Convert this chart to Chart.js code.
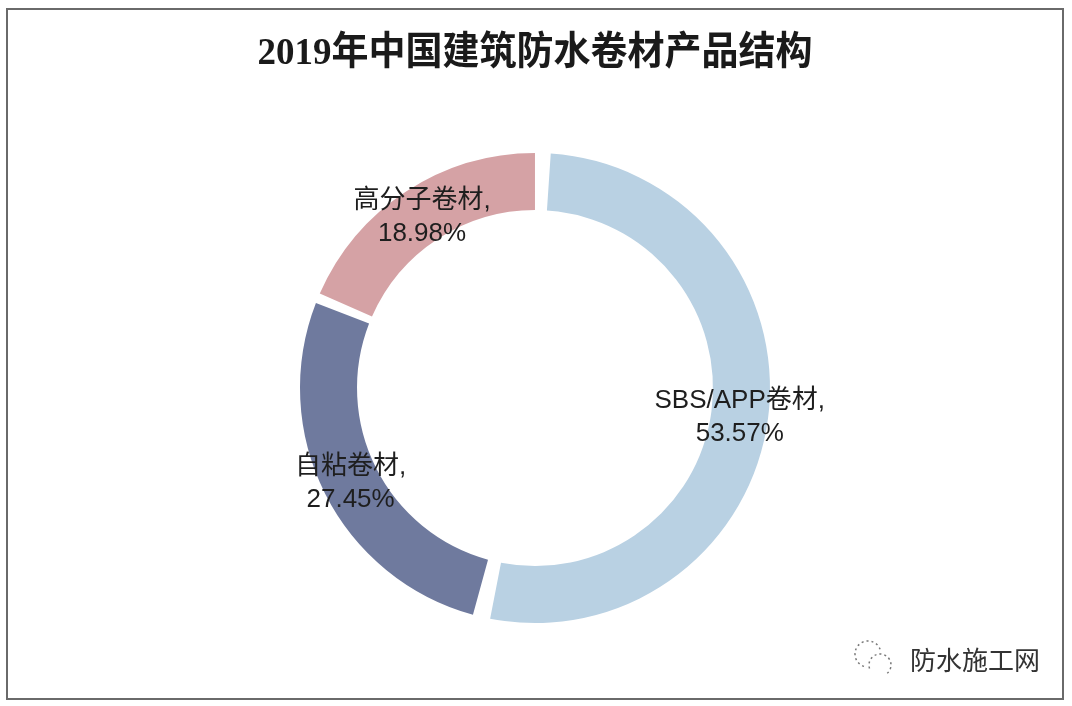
<!DOCTYPE html>
<html>
<head>
<meta charset="utf-8">
<script src="https://cdn.jsdelivr.net/npm/chart.js@4.4.0/dist/chart.umd.min.js"></script>
<style>
  html, body { margin: 0; padding: 0; background: #fff; }
  #wrap { width: 1072px; height: 706px; position: relative; }
</style>
</head>
<body>
<div id="wrap"><canvas id="c" width="1072" height="706"></canvas></div>
<script>
// 数据
const chartTitle = '2019年中国建筑防水卷材产品结构';
const categories = ['SBS/APP卷材', '自粘卷材', '高分子卷材'];
const shares = [53.57, 27.45, 18.98];
const sliceColors = ['#b9d1e3', '#6f7a9e', '#d5a2a5'];
const watermark = '防水施工网';

// 外框 + 标题 + 水印
const framePlugin = {
  id: 'frame',
  beforeDraw(chart) {
    const ctx = chart.ctx;
    ctx.save();
    ctx.fillStyle = '#ffffff';
    ctx.fillRect(0, 0, chart.width, chart.height);
    ctx.strokeStyle = '#6a6a6a';
    ctx.lineWidth = 2;
    ctx.strokeRect(7, 9, 1056, 690);
    ctx.restore();
  },
  afterDraw(chart) {
    const ctx = chart.ctx;
    ctx.save();
    // 标题
    ctx.translate(535, 54);
    ctx.scale(1, 1.05);
    ctx.fillStyle = '#1a1a1a';
    ctx.font = 'bold 37px "Liberation Serif", "Noto Sans CJK SC", serif';
    ctx.textAlign = 'center';
    ctx.textBaseline = 'middle';
    ctx.fillText(chartTitle, 0, 0);
    ctx.restore();

    // 水印
    ctx.save();
    ctx.fillStyle = '#333';
    ctx.font = '26px "Noto Sans CJK SC", sans-serif';
    ctx.textAlign = 'left';
    ctx.textBaseline = 'middle';
    ctx.fillText(watermark, 910, 660);
    ctx.strokeStyle = '#777';
    ctx.lineWidth = 1.5;
    ctx.setLineDash([2, 3]);
    ctx.beginPath();
    ctx.arc(868, 654, 13, Math.PI * 0.6, Math.PI * 1.9);
    ctx.stroke();
    ctx.beginPath();
    ctx.arc(880, 665, 11, Math.PI * 0.9, Math.PI * 2.3);
    ctx.stroke();
    ctx.restore();
  }
};

// 扇区标签
const labelPlugin = {
  id: 'sliceLabels',
  afterDatasetsDraw(chart) {
    const ctx = chart.ctx;
    const meta = chart.getDatasetMeta(0);
    ctx.save();
    ctx.fillStyle = '#1e1e1e';
    ctx.font = '26px "Liberation Sans", "Noto Sans CJK SC", sans-serif';
    ctx.textAlign = 'center';
    ctx.textBaseline = 'middle';
    meta.data.forEach((arc, i) => {
      const p = arc.getCenterPoint();
      ctx.fillText(categories[i] + ',', p.x, p.y - 14);
      ctx.fillText(shares[i].toFixed(2) + '%', p.x, p.y + 19);
    });
    ctx.restore();
  }
};

new Chart(document.getElementById('c'), {
  type: 'doughnut',
  data: {
    labels: categories,
    datasets: [{
      data: shares,
      backgroundColor: sliceColors,
      borderWidth: 0,
      spacing: 12
    }]
  },
  options: {
    responsive: false,
    animation: false,
    radius: 229,
    cutout: '75.1%',
    rotation: 1,
    layout: { padding: { top: 90, bottom: 20, left: 20, right: 22 } },
    plugins: {
      legend: { display: false },
      tooltip: { enabled: false },
      title: { display: false }
    }
  },
  plugins: [framePlugin, labelPlugin]
});
</script>
</body>
</html>
